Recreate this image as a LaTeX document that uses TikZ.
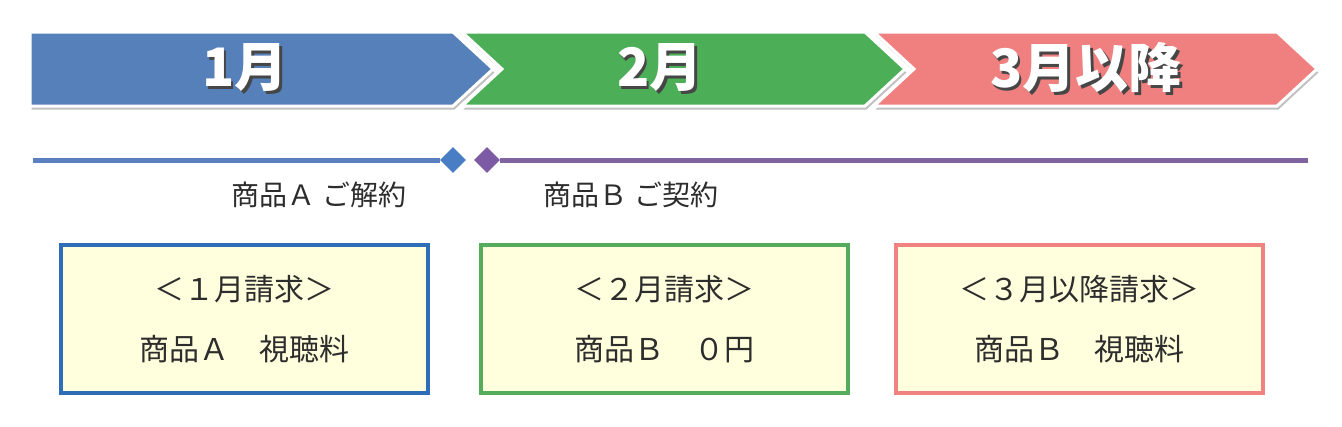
\documentclass[tikz,border=0pt]{standalone}
\usepackage{fontspec}
\newfontfamily\cjk{Noto Sans CJK JP}
\usetikzlibrary{shapes.geometric,shadows}
\definecolor{bandblue}{RGB}{86,128,186}
\definecolor{bandgreen}{RGB}{76,175,88}
\definecolor{bandred}{RGB}{240,128,128}
\definecolor{boxblue}{RGB}{46,110,184}
\definecolor{boxgreen}{RGB}{84,172,92}
\definecolor{boxred}{RGB}{240,130,130}
\definecolor{fillyel}{RGB}{255,255,221}
\definecolor{lineblue}{RGB}{90,128,192}
\definecolor{linepurple}{RGB}{128,100,160}
\definecolor{diamblue}{RGB}{74,126,196}
\definecolor{diampurple}{RGB}{125,90,165}
\definecolor{txt}{RGB}{45,45,45}
\definecolor{tshade}{RGB}{70,70,70}
\newcommand\shadowtext[1]{\makebox[0pt][l]{\hspace{2.5pt}\raisebox{-3pt}{\textcolor{tshade}{#1}}}#1}
\begin{document}
\begin{tikzpicture}[x=1pt,y=-1pt,
  band/.style={draw=white,line width=3pt,line join=miter,
    drop shadow={shadow xshift=1.5pt,shadow yshift=-3.5pt,opacity=0.35,fill=black!70}},
  bandtext/.style={font=\cjk\bfseries\fontsize{53}{57}\selectfont,text=white,inner sep=0},
  diam/.style={diamond,inner sep=0,minimum width=26pt,minimum height=26pt},
  tline/.style={line width=5pt},
  lbl/.style={font=\cjk\fontsize{28}{30}\selectfont,text=txt,inner sep=0},
  billbox/.style={fill=fillyel,line width=4pt,minimum width=367pt,minimum height=148pt,
    align=center,text=txt,font=\cjk\fontsize{30}{60}\selectfont,inner sep=0}
  ]
\useasboundingbox (0,0) rectangle (1342,426);
\fill[white] (0,0) rectangle (1342,426);
% bands
\path[band,fill=bandred] (874,32) -- (1277,32) -- (1317,69) -- (1277,106) -- (874,106) -- (914,69) -- cycle;
\path[band,fill=bandgreen] (462,32) -- (865,32) -- (905,69) -- (865,106) -- (462,106) -- (502,69) -- cycle;
\path[band,fill=bandblue] (30,32) -- (453,32) -- (493,69) -- (453,106) -- (30,106) -- cycle;
\node[bandtext] (m1) at (245,69) {\shadowtext{1月}};
\node[bandtext] (m2) at (660,69) {\shadowtext{2月}};
\node[bandtext] (m3) at (1086,69) {\shadowtext{3月以降}};
% timeline
\coordinate (ls) at (33,160);
\coordinate (le) at (1308,160);
\node[diam,fill=diamblue] (d1) at (453,160) {};
\node[diam,fill=diampurple] (d2) at (487,160) {};
\draw[tline,lineblue] (ls) -- (d1);
\draw[tline,linepurple] (d2) -- (le);
\node[lbl] (la) at (319,195) {商品Ａ ご解約};
\node[lbl] (lb) at (631,195) {商品Ｂ ご契約};
% boxes
\node[billbox,draw=boxblue] (b1) at (244.5,319) {＜１月請求＞\\商品Ａ　視聴料};
\node[billbox,draw=boxgreen] (b2) at (664.5,319) {＜２月請求＞\\商品Ｂ　０円};
\node[billbox,draw=boxred] (b3) at (1079.5,319) {＜３月以降請求＞\\商品Ｂ　視聴料};
\end{tikzpicture}
\end{document}
